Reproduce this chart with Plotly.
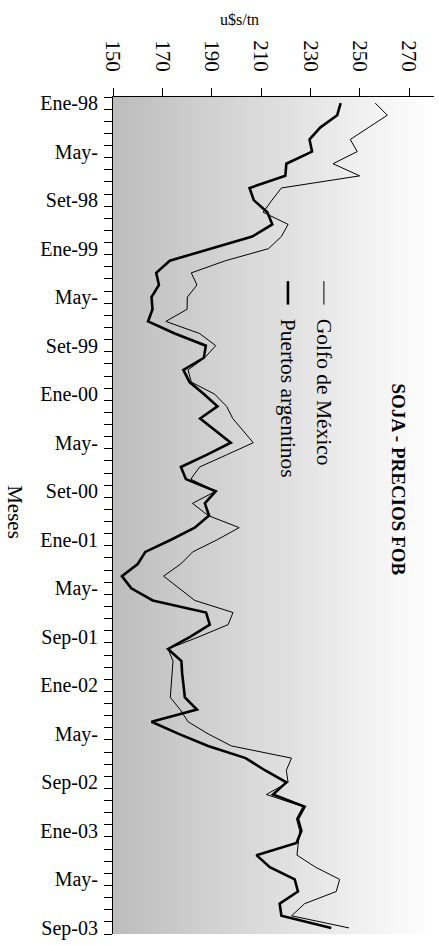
import plotly.graph_objects as go

# Monthly FOB soybean prices (u$s/tn), Jan-1998 .. Sep-2003
meses = [f"{m}-{a:02d}" for a in (98, 99, 0, 1, 2, 3)
         for m in ["Ene", "Feb", "Mar", "Abr", "May", "Jun",
                   "Jul", "Ago", "Set", "Oct", "Nov", "Dic"]][:69]

golfo = [256.2, 261.1, 253.6, 246.1, 248.9, 239.1, 249.9, 218.2, 214.4, 210.8,
         220.9, 218.2, 213.0, 195.5, 181.7, 184.0, 180.1, 180.0, 171.4, 185.1,
         191.6, 187.1, 180.4, 181.7, 191.2, 196.0, 198.5, 202.8, 206.8, 196.0,
         185.1, 181.5, 191.6, 182.2, 188.5, 201.1, 192.2, 182.3, 177.4, 170.5,
         176.8, 183.1, 198.6, 196.6, 184.8, 172.3, 174.3, 173.9, 173.5, 173.2,
         177.2, 180.4, 188.5, 198.0, 222.3, 220.2, 220.9, 212.1, 226.9, 224.3,
         225.6, 224.9, 224.5, 232.1, 241.8, 240.4, 227.6, 222.3, 245.6]

puertos = [242.2, 240.8, 234.0, 229.6, 230.6, 220.2, 219.8, 205.3, 207.0, 212.5,
           214.5, 206.4, 189.5, 173.0, 167.5, 168.6, 165.6, 166.0, 164.2, 175.0,
           187.6, 186.8, 178.5, 181.0, 186.9, 192.3, 185.3, 191.7, 197.7, 187.9,
           177.5, 179.5, 191.6, 187.2, 188.9, 183.1, 173.5, 163.1, 160.0, 153.6,
           157.4, 166.1, 187.7, 189.2, 181.2, 172.3, 177.7, 178.0, 178.4, 179.1,
           184.0, 165.6, 176.6, 188.5, 203.7, 211.5, 220.2, 214.8, 227.6, 224.9,
           226.3, 224.3, 208.1, 213.5, 223.6, 224.9, 217.5, 218.2, 238.4]

etiquetas_meses = ["Ene-98", "May-", "Set-98", "Ene-99", "May-", "Set-99",
                   "Ene-00", "May-", "Set-00", "Ene-01", "May-", "Sep-01",
                   "Ene-02", "May-", "Sep-02", "Ene-03", "May-", "Sep-03"]
precios_ticks = [150, 170, 190, 210, 230, 250, 270]

FONT = "Liberation Serif, Times New Roman, serif"
idx = list(range(len(meses)))

fig = go.Figure()
fig.add_trace(go.Scatter(x=golfo, y=idx, mode="lines", name="Golfo de México",
                         line=dict(color="black", width=1), text=meses,
                         hovertemplate="%{text}: %{x}<extra></extra>"))
fig.add_trace(go.Scatter(x=puertos, y=idx, mode="lines", name="Puertos argentinos",
                         line=dict(color="black", width=2.6), text=meses,
                         hovertemplate="%{text}: %{x}<extra></extra>"))

# horizontal grey-to-white gradient behind the plot area
shapes = []
n_bands = 80
for k in range(n_bands):
    t = (k + 0.5) / n_bands
    g = int(round(188 + (255 - 188) * t))
    shapes.append(dict(type="rect", xref="x domain", yref="y domain",
                       x0=k / n_bands, x1=(k + 1) / n_bands + 0.002, y0=0, y1=1,
                       fillcolor=f"rgb({g},{g},{g})", line=dict(width=0),
                       layer="below"))

# legend keys (drawn rotated like the rest of the text)
shapes.append(dict(type="line", xref="paper", yref="paper",
                   x0=0.657, x1=0.657, y0=0.780, y1=0.752,
                   line=dict(color="black", width=1)))
shapes.append(dict(type="line", xref="paper", yref="paper",
                   x0=0.545, x1=0.545, y0=0.780, y1=0.752,
                   line=dict(color="black", width=2.6)))

annotations = [
    dict(text="<b>SOJA - PRECIOS FOB</b>", textangle=90, xref="paper", yref="paper",
         x=0.888, y=0.660, xanchor="center", yanchor="top", showarrow=False,
         font=dict(family=FONT, size=19, color="black")),
    dict(text="Golfo de México", textangle=90, xref="paper", yref="paper",
         x=0.657, y=0.737, xanchor="center", yanchor="top", showarrow=False,
         font=dict(family=FONT, size=21.5, color="black")),
    dict(text="Puertos argentinos", textangle=90, xref="paper", yref="paper",
         x=0.545, y=0.737, xanchor="center", yanchor="top", showarrow=False,
         font=dict(family=FONT, size=21.5, color="black")),
    dict(text="u$s/tn", xref="paper", yref="paper", x=0.393, y=1.0,
         yshift=78, xanchor="center", yanchor="middle", showarrow=False,
         font=dict(family=FONT, size=16, color="black")),
    dict(text="Meses", textangle=90, xref="paper", yref="paper",
         x=0.0, xshift=-98, y=0.504, xanchor="center", yanchor="middle",
         showarrow=False, font=dict(family=FONT, size=21, color="black")),
]

fig.update_layout(
    width=439, height=945,
    margin=dict(l=113, r=5, t=97, b=11),
    paper_bgcolor="white", plot_bgcolor="white",
    showlegend=False,
    font=dict(family=FONT, color="black"),
    shapes=shapes, annotations=annotations,
    xaxis=dict(side="top", range=[150, 280], tickmode="array",
               tickvals=precios_ticks, ticktext=[str(v) for v in precios_ticks],
               tickangle=90, ticks="outside", ticklen=8, tickcolor="black",
               ticklabelstandoff=9,
               showline=True, linecolor="black", linewidth=1, showgrid=False,
               zeroline=False, tickfont=dict(family=FONT, size=21, color="black")),
    yaxis=dict(range=[len(meses) - 0.5, -0.5], tickmode="array",
               tickvals=idx[::4], ticktext=etiquetas_meses,
               ticks="outside", ticklen=10, tickcolor="rgba(0,0,0,0)",
               showline=True, linecolor="black", linewidth=1, showgrid=False,
               zeroline=False, tickfont=dict(family=FONT, size=20, color="black"),
               minor=dict(tickmode="array",
                          tickvals=[i - 0.5 for i in range(len(meses) + 1)],
                          ticks="outside", ticklen=8, tickcolor="black",
                          showgrid=False)),
)

fig.write_html("out.html")
